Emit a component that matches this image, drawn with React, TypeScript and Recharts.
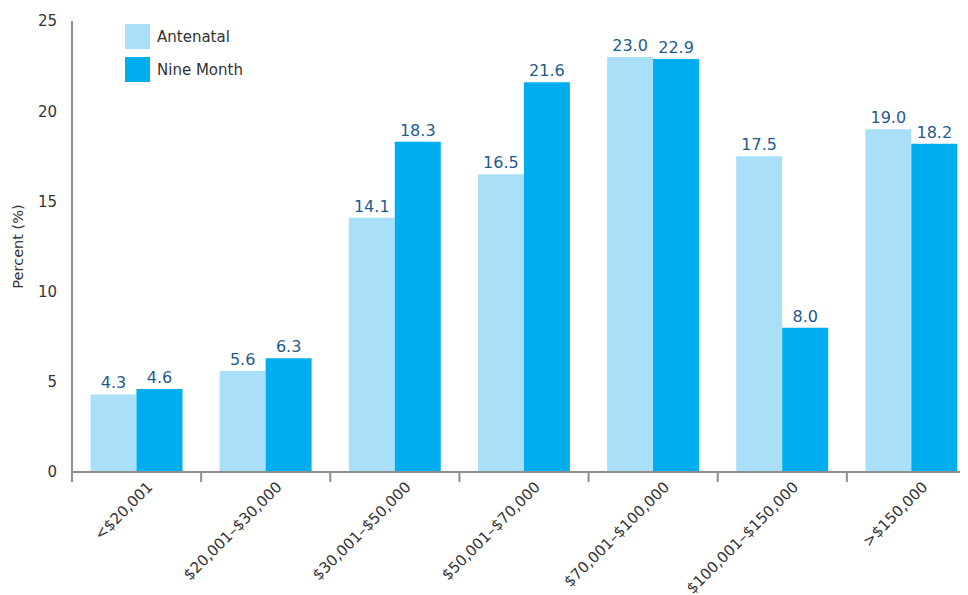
import React from 'react';
import {
  BarChart,
  Bar,
  XAxis,
  YAxis,
  LabelList,
  Legend
} from 'recharts';

const categories = [
  '<$20,001',
  '$20,001–$30,000',
  '$30,001–$50,000',
  '$50,001–$70,000',
  '$70,001–$100,000',
  '$100,001–$150,000',
  '>$150,000'
];
const antenatal = [4.3, 5.6, 14.1, 16.5, 23.0, 17.5, 19.0];
const nineMonth = [4.6, 6.3, 18.3, 21.6, 22.9, 8.0, 18.2];
const yTicks = [0, 5, 10, 15, 20, 25];

const LIGHT = '#aadff9';
const DARK = '#00adef';
const AXIS = '#8e8e8e';
const FONT = '"DejaVu Sans", Verdana, sans-serif';

const seriesNames = ['Antenatal', 'Nine Month'];
const seriesColors = [LIGHT, DARK];

// category label plus a tick mark at the left edge of each band
const CategoryTick = (props: any) => {
  const { x, y, payload } = props;
  const edge = x - (payload.offset || 0);
  const tx = x + 17;
  const ty = y + 16;
  return (
    <g>
      <line x1={edge} x2={edge} y1={y} y2={y + 10} stroke={AXIS} strokeWidth={2} />
      <text
        x={tx}
        y={ty}
        textAnchor="end"
        transform={`rotate(-45, ${tx}, ${ty})`}
        fill="#333"
        fontSize={15}
        fontFamily={FONT}
      >
        {payload.value}
      </text>
    </g>
  );
};

const LegendBox = () => (
  <div style={{ fontFamily: FONT, fontSize: 15, color: '#333' }}>
    {seriesNames.map((name, i) => (
      <div key={name} style={{ display: 'flex', alignItems: 'center', height: 25, marginBottom: 8 }}>
        <div style={{ width: 25, height: 25, background: seriesColors[i], marginRight: 7 }} />
        <span>{name}</span>
      </div>
    ))}
  </div>
);

const App: React.FC = () => {
  const data = categories.map((name, i) => ({
    name,
    antenatal: antenatal[i],
    nineMonth: nineMonth[i]
  }));

  return (
    <div style={{ width: 960, height: 587, overflow: 'hidden', position: 'relative' }}>
      <BarChart
        width={1000}
        height={587}
        data={data}
        margin={{ top: 13, right: 32, bottom: 0, left: 0 }}
        barCategoryGap="14.3%"
        barGap={0}
        style={{ fontFamily: FONT }}
      >
        <XAxis
          dataKey="name"
          type="category"
          interval={0}
          height={123}
          axisLine={{ stroke: AXIS, strokeWidth: 2 }}
          tickLine={false}
          tickSize={0}
          tickMargin={0}
          tick={<CategoryTick />}
        />
        <YAxis
          domain={[0, 25]}
          ticks={yTicks}
          width={64}
          tickLine={false}
          tickSize={0}
          tickMargin={15}
          stroke={AXIS}
          axisLine={{ stroke: AXIS, strokeWidth: 2 }}
          tick={{ fill: '#333', fontSize: 15, fontFamily: FONT }}
          label={{
            value: 'Percent (%)',
            angle: -90,
            position: 'center',
            dx: -22,
            fill: '#333',
            fontSize: 14.5,
            fontFamily: FONT
          }}
        />
        <Legend
          layout="vertical"
          align="center"
          verticalAlign="middle"
          content={<LegendBox />}
          wrapperStyle={{ position: 'absolute', left: 117, top: 16, width: 'auto' }}
        />
        <Bar dataKey="antenatal" name="Antenatal" fill={LIGHT} isAnimationActive={false}>
          <LabelList
            dataKey="antenatal"
            position="top"
            offset={6}
            fill="#1f5b8e"
            fontSize={16}
            fontFamily={FONT}
            formatter={(v: any) => Number(v).toFixed(1)}
          />
        </Bar>
        <Bar dataKey="nineMonth" name="Nine Month" fill={DARK} isAnimationActive={false}>
          <LabelList
            dataKey="nineMonth"
            position="top"
            offset={6}
            fill="#1f5b8e"
            fontSize={16}
            fontFamily={FONT}
            formatter={(v: any) => Number(v).toFixed(1)}
          />
        </Bar>
      </BarChart>
    </div>
  );
};

export default App;
